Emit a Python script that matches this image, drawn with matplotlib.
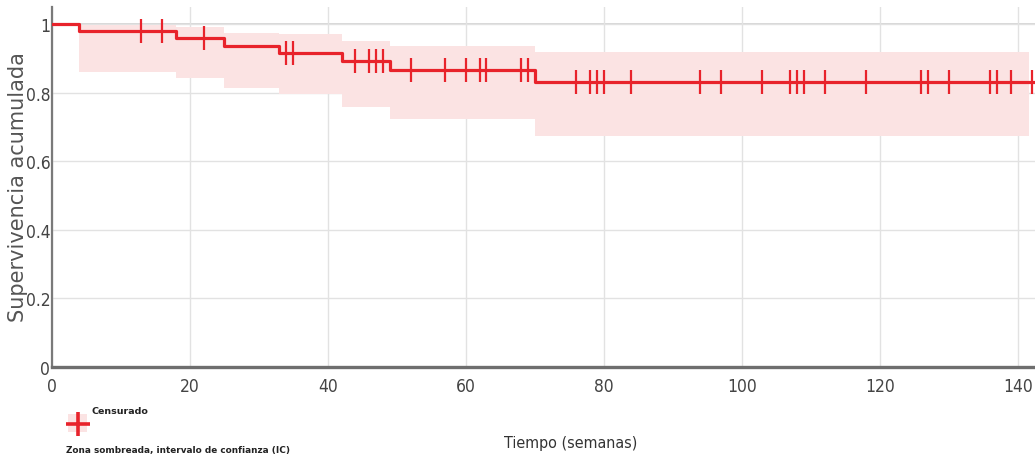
import numpy as np
import matplotlib.pyplot as plt
from matplotlib.patches import Rectangle
from matplotlib.lines import Line2D

# Kaplan-Meier: tiempos de evento (semanas) y supervivencia tras cada evento
event_times = [0, 4, 18, 25, 33, 42, 49, 70]
survival = [1.0, 0.979, 0.958, 0.935, 0.915, 0.892, 0.867, 0.830]
ci_low = [1.0, 0.861, 0.842, 0.812, 0.795, 0.757, 0.724, 0.673]
ci_high = [1.0, 0.997, 0.990, 0.975, 0.970, 0.950, 0.937, 0.917]
t_end = 142.5
ci_end = 141.7

# Observaciones censuradas (semanas)
censored = [13, 16, 22, 34, 35, 44, 46, 47, 48, 52, 57, 60, 62, 63, 68, 69,
            76, 78, 79, 80, 84, 94, 97, 103, 107, 108, 109, 112, 118, 126,
            127, 130, 136, 137, 139, 142]

x_ticks = [0, 20, 40, 60, 80, 100, 120, 140]
y_ticks = [0, 0.2, 0.4, 0.6, 0.8, 1.0]
y_ticklabels = ['0', '0.2', '0.4', '0.6', '0.8', '1']

red = '#e8232b'
pink = '#fbe3e3'

fig = plt.figure(figsize=(10.35, 4.6), dpi=100)
ax = fig.add_axes([0.050, 0.200, 0.950, 0.783])

# banda del intervalo de confianza
ci_t = event_times + [ci_end]
ax.fill_between(ci_t, ci_low + [ci_low[-1]], ci_high + [ci_high[-1]],
                step='post', color=pink, lw=0, zorder=1)

# curva de supervivencia escalonada
st = event_times + [t_end]
ax.step(st, survival + [survival[-1]], where='post', color=red, lw=2.3, zorder=3)

# marcas de censura sobre la curva
idx = np.searchsorted(event_times, censored, side='right') - 1
cens_s = np.array(survival)[idx]
ax.plot(censored, cens_s, ls='none', marker='|', ms=17, mew=1.6, color=red, zorder=4)

ax.set_xlim(0, t_end)
ax.set_ylim(0, 1.05)
ax.set_xticks(x_ticks)
ax.set_yticks(y_ticks)
ax.set_yticklabels(y_ticklabels)

ax.grid(True, color='#e2e2e2', lw=1.0, zorder=0)
ax.set_axisbelow(True)
ax.axhline(1.0, color='#d4d4d4', lw=1.3, zorder=0.5)

for s in ['top', 'right']:
    ax.spines[s].set_visible(False)
ax.spines['left'].set_color('#7a7a7a')
ax.spines['left'].set_linewidth(1.6)
ax.spines['bottom'].set_color('#6e6e6e')
ax.spines['bottom'].set_linewidth(2.4)

ax.tick_params(axis='both', length=0, colors='#444444')
ax.tick_params(axis='x', pad=7)
ax.tick_params(axis='y', pad=1)
for lab in ax.get_xticklabels() + ax.get_yticklabels():
    lab.set_fontfamily('DejaVu Sans')
    lab.set_fontstretch('condensed')
    lab.set_fontsize(12.5)

fig.text(0.017, 0.593, 'Supervivencia acumulada', rotation=90, ha='center',
         va='center', fontsize=15, color='#555555', family='DejaVu Sans')
fig.text(0.551, 0.035, 'Tiempo (semanas)', ha='center', va='center',
         fontsize=11.5, color='#333333', family='DejaVu Sans', stretch='condensed')

# leyenda
fig.add_artist(Rectangle((0.066, 0.058), 0.018, 0.04, transform=fig.transFigure,
                         color=pink, lw=0))
fig.add_artist(Line2D([0.075], [0.076], transform=fig.transFigure, marker='+',
                      ms=17, mew=2.6, color=red, ls='none'))
fig.text(0.088, 0.106, 'Censurado', fontsize=6.8, fontweight='bold',
         color='#222222', va='center', family='DejaVu Sans')
fig.text(0.064, 0.020, 'Zona sombreada, intervalo de confianza (IC)', fontsize=6.4,
         fontweight='bold', color='#222222', va='center', family='DejaVu Sans')

fig.savefig('out.png', dpi=100)
